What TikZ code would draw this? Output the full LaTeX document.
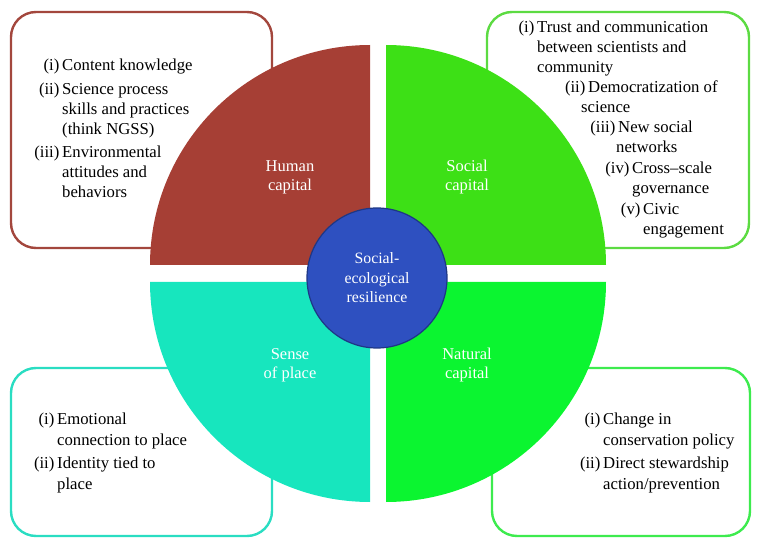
\documentclass[tikz,border=0pt]{standalone}
\usepackage{fontspec}
\setmainfont{Liberation Serif}
\definecolor{humanred}{HTML}{A63F35}
\definecolor{socialgreen}{HTML}{3DE016}
\definecolor{placeteal}{HTML}{17E6BE}
\definecolor{naturalgreen}{HTML}{0BF530}
\definecolor{coreblue}{HTML}{2E50C0}
\definecolor{coreedge}{HTML}{1E3785}
\definecolor{tlborder}{HTML}{A3473D}
\definecolor{trborder}{HTML}{5CDB42}
\definecolor{blborder}{HTML}{2ADDC2}
\definecolor{brborder}{HTML}{3DEB4E}
\tikzset{
  infobox/.style={line width=2.4pt, rounded corners=25pt},
  quadlabel/.style={text=white, font=\fontsize{16.5}{19}\selectfont, align=center, inner sep=0pt, anchor=base},
  itemtext/.style={font=\fontsize{16.7}{20.3}\selectfont, align=left, inner sep=0pt, anchor=base west, text=black},
}
\begin{document}
\begin{tikzpicture}[x=1pt,y=1pt]
\useasboundingbox (0,0) rectangle (761,547);
% boxes
\draw[infobox, draw=tlborder] (11,299) rectangle (272,535);
\draw[infobox, draw=trborder] (487,299) rectangle (749,535);
\draw[infobox, draw=blborder] (11,11) rectangle (272,179);
\draw[infobox, draw=brborder] (492,11) rectangle (750,179);
% quadrants
\fill[humanred] (370,282) -- (370,502) arc[start angle=90, end angle=180, radius=220] -- cycle;
\fill[socialgreen] (386,282) -- (606,282) arc[start angle=0, end angle=90, radius=220] -- cycle;
\fill[placeteal] (370,265) -- (150,265) arc[start angle=180, end angle=270, radius=220] -- cycle;
\fill[naturalgreen] (386,265) -- (386,45) arc[start angle=270, end angle=360, radius=220] -- cycle;
% core
\node[circle, minimum size=140pt, fill=coreblue, draw=coreedge, line width=1.2pt, inner sep=0pt] (core) at (377,269) {};
\node[text=white, font=\fontsize{15.8}{19.5}\selectfont, align=center, inner sep=0pt, anchor=base] (coretext) at (377,244) {Social-\\ecological\\resilience};
% quadrant labels
\node[quadlabel] (human) at (290,356) {Human\\capital};
\node[quadlabel] (social) at (467,356) {Social\\capital};
\node[quadlabel] (place) at (290,168) {Sense\\of place};
\node[quadlabel] (natural) at (467,168) {Natural\\capital};
% top-left list
\node[itemtext] (tl1) at (62,476) {\llap{(i)\,}Content knowledge};
\node[itemtext] (tl2) at (62,412) {\llap{(ii)\,}Science process\\skills and practices\\(think NGSS)};
\node[itemtext] (tl3) at (62,349) {\llap{(iii)\,}Environmental\\attitudes and\\behaviors};
% top-right list
\node[itemtext] (tr1) at (537,474) {\llap{(i)\,}Trust and communication\\between scientists and\\community};
\node[itemtext] (tr2) at (588,434) {\llap{(ii)\,}Democratization of\\\hspace*{-7pt}science};
\node[itemtext] (tr3) at (618,394) {\llap{(iii)\,}New social\\\hspace*{-2pt}networks};
\node[itemtext] (tr4) at (632,353) {\llap{(iv)\,}Cross--scale\\governance};
\node[itemtext] (tr5) at (643,312) {\llap{(v)\,}Civic\\engagement};
% bottom-left list
\node[itemtext] (bl1) at (57,102) {\llap{(i)\,}Emotional\\connection to place};
\node[itemtext] (bl2) at (57,58) {\llap{(ii)\,}Identity tied to\\place};
% bottom-right list
\node[itemtext] (br1) at (603,102) {\llap{(i)\,}Change in\\conservation policy};
\node[itemtext] (br2) at (603,58) {\llap{(ii)\,}Direct stewardship\\action/prevention};
\end{tikzpicture}
\end{document}
